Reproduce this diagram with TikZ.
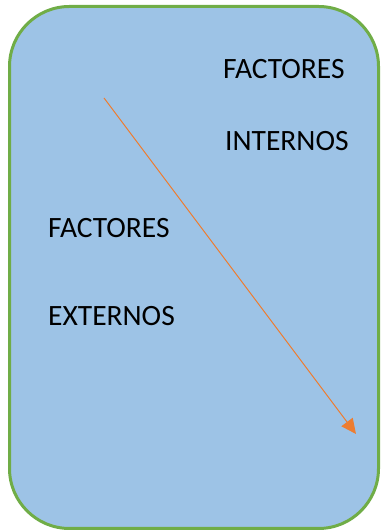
\documentclass[tikz,border=0pt]{standalone}
\usepackage{fontspec}
\setmainfont{Carlito}
\usetikzlibrary{arrows.meta}
\definecolor{boxfill}{HTML}{9DC3E6}
\definecolor{boxline}{HTML}{70AD47}
\definecolor{arrowline}{HTML}{ED7D31}
\tikzset{
  label text/.style={anchor=base west,inner sep=0pt,font=\fontsize{29.5}{34}\selectfont}
}
\begin{document}
\begin{tikzpicture}[x=1pt,y=1pt]
        \useasboundingbox (0,0) rectangle (381,532);

        \draw [boxline,fill=boxfill,line width=3pt,rounded corners=60pt] (9.5,3.5) rectangle (378.5,525.5);

        \node [label text] (fint) at (223,453) {FACTORES};
        \node [label text] (int) at (225,381) {INTERNOS};
        \node [label text] (fext) at (48,294) {FACTORES};
        \node [label text] (ext) at (48,206) {EXTERNOS};

        \coordinate (start) at (104,434);
        \coordinate (end) at (356,98);
        \draw [arrowline,line width=1pt,-{Triangle[length=15pt,width=14pt]}] (start) -- (end);
      \end{tikzpicture}
\end{document}
